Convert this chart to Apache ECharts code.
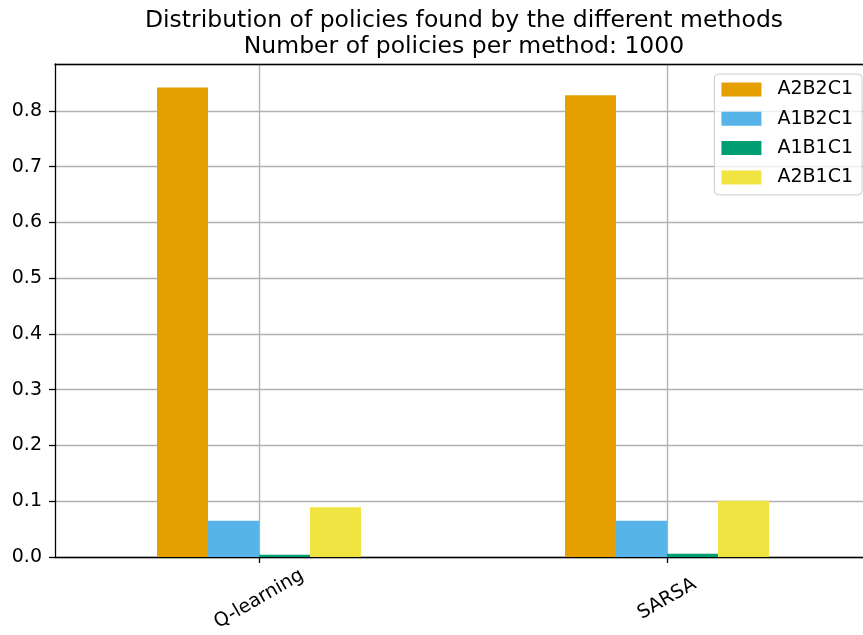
<!DOCTYPE html>
<html>
<head>
<meta charset="utf-8">
<script src="https://cdn.jsdelivr.net/npm/echarts@6/dist/echarts.min.js"></script>
<style>html,body{margin:0;padding:0;background:#fff}#c{width:863px;height:635px}</style>
</head>
<body>
<div id="c"></div>
<script>
const categories = ['Q-learning', 'SARSA'];
const seriesNames = ['A2B2C1', 'A1B2C1', 'A1B1C1', 'A2B1C1'];
const valsA2B2C1 = [0.842, 0.828];
const valsA1B2C1 = [0.065, 0.065];
const valsA1B1C1 = [0.004, 0.006];
const valsA2B1C1 = [0.089, 0.101];
const colors = ['#E69F00', '#56B4E9', '#009E73', '#F0E442'];
const yTicks = [0, 0.1, 0.2, 0.3, 0.4, 0.5, 0.6, 0.7, 0.8];
const titleText = 'Distribution of policies found by the different methods\nNumber of policies per method: 1000';

const seriesValues = [valsA2B2C1, valsA1B2C1, valsA1B1C1, valsA2B1C1];
const FONT = 'DejaVu Sans';
const chart = echarts.init(document.getElementById('c'), null, {renderer: 'canvas'});
chart.setOption({
  animation: false,
  backgroundColor: '#fff',
  textStyle: {fontFamily: FONT},
  title: {
    text: titleText,
    left: 459, textAlign: 'center', top: 3,
    textStyle: {fontFamily: FONT, fontSize: 23.5, fontWeight: 'normal', color: '#000', lineHeight: 26}
  },
  legend: {
    data: seriesNames,
    orient: 'vertical',
    right: 1, top: 74,
    icon: 'rect', itemWidth: 40, itemHeight: 14, itemGap: 10.3,
    padding: [6, 9, 8, 7],
    borderColor: '#cccccc', borderWidth: 1, borderRadius: 4,
    backgroundColor: 'rgba(255,255,255,0.8)',
    textStyle: {fontFamily: FONT, fontSize: 19, color: '#000', lineHeight: 19, padding: [0, 0, 0, 11]}
  },
  grid: {left: 55, width: 816, top: 64, height: 493, containLabel: false, outerBoundsMode: 'none'},
  xAxis: [{
    type: 'category', data: categories, position: 'bottom',
    axisLine: {show: true, lineStyle: {color: '#000', width: 1.3}},
    axisTick: {show: true, alignWithLabel: true, length: 6, lineStyle: {color: '#000', width: 1.3}},
    axisLabel: {rotate: 30, align: 'center', verticalAlign: 'middle', margin: 42, fontSize: 19, color: '#000', fontFamily: FONT},
    splitLine: {show: false}
  }, {
    type: 'category', data: ['a', 'b', 'c', 'd'], position: 'top',
    axisLine: {show: true, lineStyle: {color: '#000', width: 1.3}},
    axisTick: {show: false}, axisLabel: {show: false},
    splitLine: {show: true, interval: function (i) { return i === 1 || i === 3; }, lineStyle: {color: '#b0b0b0', width: 1.3}}
  }],
  yAxis: {
    type: 'value', min: 0, max: 0.884, interval: 0.1,
    axisLine: {show: true, lineStyle: {color: '#000', width: 1.3}},
    axisTick: {show: true, length: 6, lineStyle: {color: '#000', width: 1.3}},
    axisLabel: {fontSize: 19, color: '#000', margin: 13, fontFamily: FONT, showMaxLabel: false,
      formatter: function (v) { return yTicks.some(t => Math.abs(t - v) < 1e-6) ? v.toFixed(1) : ''; }},
    splitLine: {show: true, lineStyle: {color: '#b0b0b0', width: 1.3}}
  },
  series: seriesNames.map((n, i) => ({
    name: n, type: 'bar', xAxisIndex: 0, data: seriesValues[i],
    barGap: 0, barCategoryGap: '50%',
    itemStyle: {color: colors[i]}
  }))
});
</script>
</body>
</html>
